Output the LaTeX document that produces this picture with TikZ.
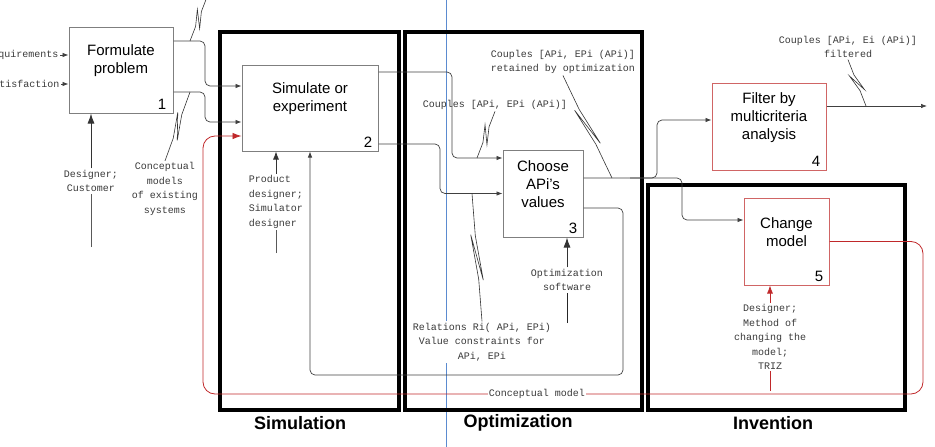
\documentclass[tikz,border=0pt]{standalone}
\usepackage{fontspec}
\setmainfont{Liberation Sans}
\newfontfamily\monof{Liberation Mono}
\usetikzlibrary{arrows.meta,calc}
\definecolor{boxgray}{HTML}{7F7F7F}
\definecolor{boxred}{HTML}{D06565}
\definecolor{redline}{HTML}{C0282A}
\definecolor{blueline}{HTML}{5B8BD0}
\definecolor{lblgray}{HTML}{3A3A3A}
\tikzset{
  box/.style={draw=boxgray, line width=1pt, fill=white, inner sep=0pt},
  redbox/.style={draw=boxred, line width=1pt, fill=white, inner sep=0pt},
  boxtext/.style={font=\fontsize{15}{18}\selectfont, align=center, inner sep=0pt},
  num/.style={font=\fontsize{15}{15}\selectfont, anchor=south east, inner sep=0pt},
  lbl/.style={font=\monof\fontsize{10}{14.5}\selectfont, text=lblgray, align=center, inner sep=1.5pt},
  conn/.style={draw=black!75, line width=0.7pt, rounded corners=5pt, -{Latex[length=6pt,width=4.5pt]}},
  redconn/.style={draw=redline, line width=0.8pt, rounded corners=12pt, -{Latex[length=9pt,width=6.5pt]}},
  bigarrow/.style={draw=black!80, line width=0.9pt, -{Latex[length=10pt,width=7pt]}},
  midarrow/.style={draw=black!80, line width=0.8pt, -{Latex[length=8pt,width=6pt]}},
  plainline/.style={draw=black!65, line width=0.9pt},
  zzstyle/.style={draw=black!80, line width=0.6pt, line join=miter},
  frame/.style={draw=black, line width=4.5pt, line join=miter},
  framelbl/.style={font=\bfseries\fontsize{18}{18}\selectfont}
}
\newcommand\zzline[2]{\draw[zzstyle] (#1) -- ($(#1)!0.33!(#2)$) -- ($(#1)!0.68!(#2)!4.5pt!90:(#2)$) -- ($(#1)!0.32!(#2)!4.5pt!-90:(#2)$) -- ($(#1)!0.67!(#2)$) -- (#2);}
\begin{document}
\begin{tikzpicture}[x=1pt,y=-1pt]
\useasboundingbox (0,0) rectangle (935,447);
% blue guide line
\draw[blueline, line width=0.8pt] (446,0) -- (446,447);
% frames
\draw[frame] (220,32) rectangle (399,410);
\draw[frame] (405,32) rectangle (642,410);
\draw[frame] (648,185) rectangle (905,410);
\node[framelbl] (fs) at (300,423) {Simulation};
\node[framelbl] (fo) at (518,423) {Optimization};
\node[framelbl] (fi) at (773,423) {Invention};

% boxes
\node[box, minimum width=104pt, minimum height=86pt] (b1) at (121,70) {};
\node[boxtext] (t1) at ([yshift=9pt]b1.center) {Formulate\\problem};
\node[num] (n1) at ([xshift=-7pt,yshift=4pt]b1.south east) {1};

\node[box, minimum width=136pt, minimum height=86pt] (b2) at (310,108) {};
\node[boxtext] (t2) at ([yshift=9pt]b2.center) {Simulate or\\experiment};
\node[num] (n2) at ([xshift=-6pt,yshift=4pt]b2.south east) {2};

\node[box, minimum width=80pt, minimum height=87pt] (b3) at (543,193.5) {};
\node[boxtext] (t3) at ([yshift=9pt]b3.center) {Choose\\APi's\\values};
\node[num] (n3) at ([xshift=-6pt,yshift=4pt]b3.south east) {3};

\node[redbox, minimum width=114pt, minimum height=87pt] (b4) at (769,126.5) {};
\node[boxtext] (t4) at ([yshift=9pt]b4.center) {Filter by\\multicriteria\\analysis};
\node[num] (n4) at ([xshift=-6pt,yshift=4pt]b4.south east) {4};

\node[redbox, minimum width=85pt, minimum height=87pt] (b5) at (786.5,241.5) {};
\node[boxtext] (t5) at ([yshift=9pt]b5.center) {Change\\model};
\node[num] (n5) at ([xshift=-6pt,yshift=4pt]b5.south east) {5};

% left inputs (cut by the left edge, as in the reference)
\node[lbl, anchor=east] (req) at (60,55) {Requirements};
\node[lbl, anchor=east] (sat) at (61,84) {Satisfaction};
\draw[conn] (req.east) -- ([yshift=15pt]b1.west);
\draw[conn] (sat.east) -- ([yshift=-14pt]b1.west);

% main connectors
\draw[conn] ([yshift=29pt]b1.east) -- (205,41) -- (205,86) -- ([yshift=22pt]b2.west);
\draw[conn] ([yshift=-22pt]b1.east) -- (205,92) -- (205,122) -- ([yshift=-14pt]b2.west);
\draw[conn] ([yshift=36pt]b2.east) -- (452,72) -- (452,158) -- ([yshift=35.5pt]b3.west);
\draw[conn] ([yshift=-36pt]b2.east) -- (440,144) -- (440,193.5) -- (b3.west);
\draw[conn] ([yshift=-14.5pt]b3.east) -- (623,208) -- (623,375) -- (310,375) -- (b2.south);
\draw[conn] ([yshift=15.5pt]b3.east) -- (657,178) -- (657,120) -- ([yshift=6.5pt]b4.west);
\coordinate (split) at (630,178);
\draw[conn] (split) -- (682,178) -- (682,220) -- ([yshift=21.5pt]b5.west);
\coordinate (out4) at (927,106);
\draw[conn] ([yshift=20.5pt]b4.east) -- (out4);

% red feedback loop
\draw[redconn] (b5.east) -- (923,241.5) -- (923,394) -- (203,394) -- (203,136) -- ([yshift=-28pt]b2.west);
\node[lbl, fill=white, inner sep=1pt] (cm) at (537,394) {Conceptual model};

% mechanisms
\node[lbl, fill=white] (dc) at (91,181) {Designer;\\Customer};
\draw[bigarrow] (dc.north) -- ([xshift=-30pt]b1.south);
\coordinate (dcb) at (91,247);
\draw[plainline] (dcb) -- (dc.south);

\node[lbl, align=left] (pd) at (276,202) {Product\\designer;\\Simulator\\designer};
\draw[midarrow] (pd.north) -- ([xshift=-34pt]b2.south);
\coordinate (pdb) at (276,253);
\draw[plainline] (pdb) -- (pd.south);

\node[lbl] (os) at (567,280) {Optimization\\software};
\draw[bigarrow] (os.north) -- ([xshift=24pt]b3.south);
\coordinate (osb) at (567,323);
\draw[plainline, draw=black!85] (osb) -- (os.south);

\node[lbl] (dt) at (770,337) {Designer;\\Method of\\changing the\\model;\\TRIZ};
\draw[draw=redline, line width=0.8pt, -{Latex[length=8pt,width=6pt]}] (dt.north) -- ([xshift=-16.5pt]b5.south);
\coordinate (dtb) at (770,391);
\draw[draw=redline, line width=0.8pt] (dtb) -- (dt.south);

% squiggle labels
\node[lbl] (lcm) at (165,189) {Conceptual\\models\\of existing\\systems};
\coordinate (p2) at (190,92);
\zzline{p2}{lcm.north}
\coordinate (p1) at (190,41);
\coordinate (p1t) at (207,-3);
\zzline{p1}{p1t}

\node[lbl] (lc) at (495,105) {Couples [APi, EPi (APi)]};
\coordinate (p3) at (477,158);
\zzline{p3}{lc.south}

\node[lbl] (lr) at (563,62) {Couples [APi, EPi (APi)]\\retained by optimization};
\coordinate (p6) at (612,178);
\zzline{p6}{lr.south}

\node[lbl, fill=white] (lrel) at (482,342) {Relations Ri( APi, EPi)\\Value constraints for\\APi, EPi};
\coordinate (p4) at (472,193.5);
\zzline{p4}{lrel.north}

\node[lbl] (lf) at (848,47) {Couples [APi, Ei (APi)]\\filtered};
\coordinate (p8) at (866,106);
\zzline{p8}{lf.south}
\end{tikzpicture}
\end{document}
